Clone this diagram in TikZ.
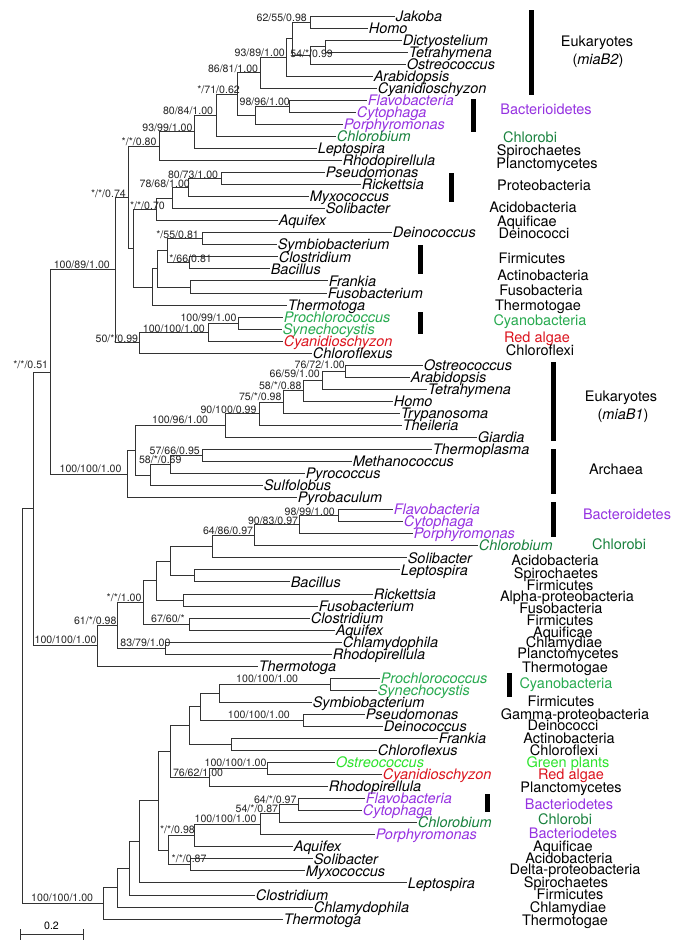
\documentclass[tikz,border=0pt]{standalone}
\usepackage{fontspec}
\setmainfont{TeX Gyre Heros}
\usetikzlibrary{calc}
\definecolor{cpur}{RGB}{150,50,225}
\definecolor{cgrn}{RGB}{25,130,62}
\definecolor{ccya}{RGB}{40,170,80}
\definecolor{cpl}{RGB}{45,228,45}
\definecolor{cred}{RGB}{220,20,30}
\newcommand\bigf{\fontsize{14.5}{16}\selectfont}
\newcommand\smf{\fontsize{10.6}{12}\selectfont}
\tikzset{
 br/.style={draw=black!80, line width=0.8pt},
 leaflab/.style={anchor=base west, inner sep=0pt, font=\bigf\itshape},
 supp/.style={anchor=base east, inner sep=0pt, font=\smf, text=black!85},
 grp/.style={anchor=base, inner sep=0pt, font=\bigf},
 clbar/.style={fill=black, draw=none},
}
\newcommand\mkleaf[5]{%
  \coordinate (#1) at (#2,16+12.04*#3);
  \node[leaflab, text=#4] (#1t) at ([xshift=0.6pt,yshift=-5.2pt]#1) {#5};}
\newcommand\mknode[4]{%
  \path let \p1=(#3), \p2=(#4) in coordinate (#1) at (#2pt,{(\y1+\y2)/2});
  \draw[br] (#1) |- (#3);
  \draw[br] (#1) |- (#4);}
\begin{document}
\begin{tikzpicture}[x=1pt,y=-1pt]
\fill[white] (0,0) rectangle (685,948);
\useasboundingbox (0,0) rectangle (685,948);
% leaves
\mkleaf{L0}{395}{0}{black}{Jakoba}
\mkleaf{L1}{368}{1}{black}{Homo}
\mkleaf{L2}{402}{2}{black}{Dictyostelium}
\mkleaf{L3}{408}{3}{black}{Tetrahymena}
\mkleaf{L4}{406}{4}{black}{Ostreococcus}
\mkleaf{L5}{373}{5}{black}{Arabidopsis}
\mkleaf{L6}{377}{6}{black}{Cyanidioschyzon}
\mkleaf{L7}{367}{7}{cpur}{Flavobacteria}
\mkleaf{L8}{356}{8}{cpur}{Cytophaga}
\mkleaf{L9}{343}{9}{cpur}{Porphyromonas}
\mkleaf{L10}{336}{10}{cgrn}{Chlorobium}
\mkleaf{L11}{317}{11}{black}{Leptospira}
\mkleaf{L12}{342}{12}{black}{Rhodopirellula}
\mkleaf{L13}{325}{13}{black}{Pseudomonas}
\mkleaf{L14}{361}{14}{black}{Rickettsia}
\mkleaf{L15}{309}{15}{black}{Myxococcus}
\mkleaf{L16}{325}{16}{black}{Solibacter}
\mkleaf{L17}{278}{17}{black}{Aquifex}
\mkleaf{L18}{392}{18}{black}{Deinococcus}
\mkleaf{L19}{277}{19}{black}{Symbiobacterium}
\mkleaf{L20}{278}{20}{black}{Clostridium}
\mkleaf{L21}{270}{21}{black}{Bacillus}
\mkleaf{L22}{328}{22}{black}{Frankia}
\mkleaf{L23}{327}{23}{black}{Fusobacterium}
\mkleaf{L24}{287}{24}{black}{Thermotoga}
\mkleaf{L25}{283}{25}{ccya}{Prochlorococcus}
\mkleaf{L26}{282}{26}{ccya}{Synechocystis}
\mkleaf{L27}{283}{27}{cred}{Cyanidioschyzon}
\mkleaf{L28}{312}{28}{black}{Chloroflexus}
\mkleaf{L29}{423}{29}{black}{Ostreococcus}
\mkleaf{L30}{410}{30}{black}{Arabidopsis}
\mkleaf{L31}{427}{31}{black}{Tetrahymena}
\mkleaf{L32}{393}{32}{black}{Homo}
\mkleaf{L33}{400}{33}{black}{Trypanosoma}
\mkleaf{L34}{402}{34}{black}{Theileria}
\mkleaf{L35}{477}{35}{black}{Giardia}
\mkleaf{L36}{432}{36}{black}{Thermoplasma}
\mkleaf{L37}{352}{37}{black}{Methanococcus}
\mkleaf{L38}{305}{38}{black}{Pyrococcus}
\mkleaf{L39}{263}{39}{black}{Sulfolobus}
\mkleaf{L40}{297}{40}{black}{Pyrobaculum}
\mkleaf{L41}{393}{41}{cpur}{Flavobacteria}
\mkleaf{L42}{403}{42}{cpur}{Cytophaga}
\mkleaf{L43}{413}{43}{cpur}{Porphyromonas}
\mkleaf{L44}{478}{44}{cgrn}{Chlorobium}
\mkleaf{L45}{407}{45}{black}{Solibacter}
\mkleaf{L46}{400}{46}{black}{Leptospira}
\mkleaf{L47}{290}{47}{black}{Bacillus}
\mkleaf{L48}{373}{48}{black}{Rickettsia}
\mkleaf{L49}{318}{49}{black}{Fusobacterium}
\mkleaf{L50}{310}{50}{black}{Clostridium}
\mkleaf{L51}{335}{51}{black}{Aquifex}
\mkleaf{L52}{342}{52}{black}{Chlamydophila}
\mkleaf{L53}{332}{53}{black}{Rhodopirellula}
\mkleaf{L54}{258}{54}{black}{Thermotoga}
\mkleaf{L55}{380}{55}{ccya}{Prochlorococcus}
\mkleaf{L56}{377}{56}{ccya}{Synechocystis}
\mkleaf{L57}{312}{57}{black}{Symbiobacterium}
\mkleaf{L58}{365}{58}{black}{Pseudomonas}
\mkleaf{L59}{383}{59}{black}{Deinococcus}
\mkleaf{L60}{438}{60}{black}{Frankia}
\mkleaf{L61}{377}{61}{black}{Chloroflexus}
\mkleaf{L62}{335}{62}{cpl}{Ostreococcus}
\mkleaf{L63}{382}{63}{cred}{Cyanidioschyzon}
\mkleaf{L64}{328}{64}{black}{Rhodopirellula}
\mkleaf{L65}{365}{65}{cpur}{Flavobacteria}
\mkleaf{L66}{362}{66}{cpur}{Cytophaga}
\mkleaf{L67}{417}{67}{cgrn}{Chlorobium}
\mkleaf{L68}{375}{68}{cpur}{Porphyromonas}
\mkleaf{L69}{293}{69}{black}{Aquifex}
\mkleaf{L70}{313}{70}{black}{Solibacter}
\mkleaf{L71}{305}{71}{black}{Myxococcus}
\mkleaf{L72}{407}{72}{black}{Leptospira}
\mkleaf{L73}{255}{73}{black}{Clostridium}
\mkleaf{L74}{313}{74}{black}{Chlamydophila}
\mkleaf{L75}{283}{75}{black}{Thermotoga}
% internal nodes
\mknode{n1}{310}{L0}{L1}
\mknode{n2}{325}{L2}{L3}
\mknode{n3}{310}{n2}{L4}
\mknode{n4}{292}{n1}{n3}
\mknode{n5}{286}{n4}{L5}
\mknode{n6}{260}{n5}{L6}
\mknode{n7}{289}{L7}{L8}
\mknode{n8}{255}{n7}{L9}
\mknode{n9}{237}{n6}{n8}
\mknode{n10}{216}{n9}{L10}
\mknode{n11}{194}{n10}{L11}
\mknode{n12}{159}{n11}{L12}
\mknode{n13}{221}{L13}{L14}
\mknode{n14}{188}{n13}{L15}
\mknode{n15}{172}{n14}{L16}
\mknode{n16}{156}{n15}{L17}
\mknode{n17}{202}{L18}{L19}
\mknode{n18}{189}{L20}{L21}
\mknode{n19}{167}{n17}{n18}
\mknode{n20}{190}{L22}{L23}
\mknode{n21}{157}{n19}{n20}
\mknode{n22}{152}{n21}{L24}
\mknode{n23}{133}{n16}{n22}
\mknode{n24}{128}{n12}{n23}
\mknode{n25}{238}{L25}{L26}
\mknode{n26}{208}{n25}{L27}
\mknode{n27}{139}{n26}{L28}
\mknode{n28}{115}{n24}{n27}
\mknode{n29}{345}{L29}{L30}
\mknode{n30}{322}{n29}{L31}
\mknode{n31}{303}{n30}{L32}
\mknode{n32}{283}{n31}{L33}
\mknode{n33}{259}{n32}{L34}
\mknode{n34}{225}{n33}{L35}
\mknode{n35}{202}{L36}{L37}
\mknode{n36}{170}{n35}{L38}
\mknode{n37}{150}{n36}{L39}
\mknode{n38}{135}{n34}{n37}
\mknode{n39}{127}{n38}{L40}
\mknode{n40}{50}{n28}{n39}
\mknode{n41}{338}{L41}{L42}
\mknode{n42}{299}{n41}{L43}
\mknode{n43}{254}{n42}{L44}
\mknode{n44}{212}{n43}{L45}
\mknode{n45}{194}{L46}{L47}
\mknode{n46}{170}{n44}{n45}
\mknode{n47}{183}{L48}{L49}
\mknode{n48}{156}{n46}{n47}
\mknode{n49}{189}{L50}{L51}
\mknode{n50}{143}{n48}{n49}
\mknode{n51}{165}{L52}{L53}
\mknode{n52}{117}{n50}{n51}
\mknode{n53}{97}{n52}{L54}
\mknode{nA}{33}{n40}{n53}
\mknode{n54}{330}{L55}{L56}
\mknode{n55}{219}{n54}{L57}
\mknode{n56}{303}{L58}{L59}
\mknode{n57}{200}{n55}{n56}
\mknode{n58}{231}{L60}{L61}
\mknode{n59}{189}{n57}{n58}
\mknode{n60}{267}{L62}{L63}
\mknode{n61}{209}{n60}{L64}
\mknode{n62}{170}{n59}{n61}
\mknode{n63}{298}{L65}{L66}
\mknode{n64}{279}{n63}{L67}
\mknode{n65}{260}{n64}{L68}
\mknode{n66}{194}{n65}{L69}
\mknode{n67}{190}{L70}{L71}
\mknode{n68}{168}{n66}{n67}
\mknode{n69}{158}{n62}{n68}
\mknode{n70}{139}{n69}{L72}
\mknode{n71}{129}{n70}{L73}
\mknode{n72}{117}{n71}{L74}
\mknode{n73}{103}{n72}{L75}
\mknode{root}{22}{nA}{n73}
% support values
\node[supp] (s1) at (307,21.5) {62/55/0.98};
\node[supp] (s2) at (333,57) {54/*/0.99};
\node[supp] (s3) at (285,56.4) {93/89/1.00};
\node[supp] (s4) at (258.3,72) {86/81/1.00};
\node[supp] (s5) at (290,105.4) {98/96/1.00};
\node[supp] (s6) at (240,93) {*/71/0.62};
\node[supp] (s7) at (213.3,114) {80/84/1.00};
\node[supp] (s8) at (192.7,131) {93/99/1.00};
\node[supp] (s9) at (156.7,145.5) {*/*/0.80};
\node[supp] (s10) at (218.3,178) {80/73/1.00};
\node[supp] (s11) at (190,187.5) {78/68/1.00};
\node[supp] (s12) at (165,209.7) {*/*/0.70};
\node[supp] (s13) at (199,238.5) {*/55/0.81};
\node[supp] (s14) at (212,262) {*/66/0.81};
\node[supp] (s15) at (126,197) {*/*/0.74};
\node[supp] (s16) at (236.7,321) {100/99/1.00};
\node[supp] (s17) at (205,332) {100/100/1.00};
\node[supp] (s18) at (138.3,342) {50/*/0.99};
\node[supp] (s19) at (110,268.7) {100/89/1.00};
\node[supp] (s20) at (345,368.7) {76/72/1.00};
\node[supp] (s21) at (320,377.7) {66/59/1.00};
\node[supp] (s22) at (301.7,389.7) {58/*/0.88};
\node[supp] (s23) at (281.7,400.4) {75/*/0.98};
\node[supp] (s24) at (256.7,413) {90/100/0.99};
\node[supp] (s25) at (208.3,423) {100/96/1.00};
\node[supp] (s26) at (200,454.4) {57/66/0.95};
\node[supp] (s27) at (181.7,463.7) {58/*/0.69};
\node[supp] (s28) at (121.7,472) {100/100/1.00};
\node[supp] (s29) at (48.3,368.7) {*/*/0.51};
\node[supp] (s30) at (335,515.4) {98/99/1.00};
\node[supp] (s31) at (298.3,524.4) {90/83/0.97};
\node[supp] (s32) at (253.3,534.7) {64/86/0.97};
\node[supp] (s33) at (185,622.7) {67/60/*};
\node[supp] (s34) at (141.7,601) {*/*/1.00};
\node[supp] (s35) at (170.7,646) {83/79/1.00};
\node[supp] (s36) at (116.7,624.4) {61/*/0.98};
\node[supp] (s37) at (96.7,643.7) {100/100/1.00};
\node[supp] (s38) at (298.3,682) {100/100/1.00};
\node[supp] (s39) at (290,718.7) {100/100/1.00};
\node[supp] (s40) at (266.7,766.4) {100/100/1.00};
\node[supp] (s41) at (223.3,776) {76/62/1.00};
\node[supp] (s42) at (296.7,803) {64/*/0.97};
\node[supp] (s43) at (278.3,812) {54/*/0.87};
\node[supp] (s44) at (256.7,822.7) {100/100/1.00};
\node[supp] (s45) at (195,833.7) {*/*/0.98};
\node[supp] (s46) at (206.7,862.7) {*/*/0.87};
\node[supp] (s47) at (93.3,901.4) {100/100/1.00};
% clade bars
\fill[clbar] (529,10) rectangle (534,95);
\fill[clbar] (471,99) rectangle (476,132);
\fill[clbar] (449,173) rectangle (454,202);
\fill[clbar] (418,245) rectangle (423,274);
\fill[clbar] (418,312) rectangle (423,334);
\fill[clbar] (551,362) rectangle (556,441);
\fill[clbar] (551,449) rectangle (556,494);
\fill[clbar] (551,502) rectangle (556,537);
\fill[clbar] (507,673) rectangle (512,697);
\fill[clbar] (485,794) rectangle (490,812);
% group labels
\node[grp] (g1) at (597,46.2) {Eukaryotes};
\node[grp] (g2) at (598,64.2) {(\textit{miaB2})};
\node[grp,text=cpur] (g3) at (546,114.2) {Bacterioidetes};
\node[grp,text=cgrn] (g4) at (530,142.2) {Chlorobi};
\node[grp] (g5) at (539,155.2) {Spirochaetes};
\node[grp] (g6) at (547,168.2) {Planctomycetes};
\node[grp] (g7) at (544,190.2) {Proteobacteria};
\node[grp] (g8) at (533,212.2) {Acidobacteria};
\node[grp] (g9) at (527,226.2) {Aquificae};
\node[grp] (g10) at (534,238.2) {Deinococci};
\node[grp] (g11) at (532,263.2) {Firmicutes};
\node[grp] (g12) at (543,280.2) {Actinobacteria};
\node[grp] (g13) at (541,295.2) {Fusobacteria};
\node[grp] (g14) at (538,310.2) {Thermotogae};
\node[grp,text=ccya] (g15) at (540,325.2) {Cyanobacteria};
\node[grp,text=cred] (g16) at (537,342.2) {Red algae};
\node[grp] (g17) at (540,355.2) {Chloroflexi};
\node[grp] (g18) at (621,401.2) {Eukaryotes};
\node[grp] (g19) at (623,419.2) {(\textit{miaB1})};
\node[grp] (g20) at (616,474.2) {Archaea};
\node[grp,text=cpur] (g21) at (627,519.2) {Bacteroidetes};
\node[grp,text=cgrn] (g22) at (619,549.2) {Chlorobi};
\node[grp] (g23) at (555,565.2) {Acidobacteria};
\node[grp] (g24) at (556,578.2) {Spirochaetes};
\node[grp] (g25) at (560,590.2) {Firmicutes};
\node[grp] (g26) at (567,601.2) {Alpha-proteobacteria};
\node[grp] (g27) at (561,613.2) {Fusobacteria};
\node[grp] (g28) at (560,625.2) {Firmicutes};
\node[grp] (g29) at (563,637.2) {Aquificae};
\node[grp] (g30) at (564,647.2) {Chlamydiae};
\node[grp] (g31) at (568,658.2) {Planctomycetes};
\node[grp] (g32) at (565,672.2) {Thermotogae};
\node[grp,text=ccya] (g33) at (566,688.2) {Cyanobacteria};
\node[grp] (g34) at (561,706.2) {Firmicutes};
\node[grp] (g35) at (575,719.2) {Gamma-proteobacteria};
\node[grp] (g36) at (563,730.2) {Deinococci};
\node[grp] (g37) at (569,743.2) {Actinobacteria};
\node[grp] (g38) at (564,755.2) {Chloroflexi};
\node[grp,text=cpl] (g39) at (568,767.2) {Green plants};
\node[grp,text=cred] (g40) at (571,779.2) {Red algae};
\node[grp] (g41) at (571,792.2) {Planctomycetes};
\node[grp,text=cpur] (g42) at (569,809.2) {Bacteriodetes};
\node[grp,text=cgrn] (g43) at (565,824.2) {Chlorobi};
\node[grp,text=cpur] (g44) at (573,838.2) {Bacteriodetes};
\node[grp] (g45) at (563,851.2) {Aquificae};
\node[grp] (g46) at (569,863.2) {Acidobacteria};
\node[grp] (g47) at (575,874.2) {Delta-proteobacteria};
\node[grp] (g48) at (566,887.2) {Spirochaetes};
\node[grp] (g49) at (570,899.2) {Firmicutes};
\node[grp] (g50) at (568,912.2) {Chlamydiae};
\node[grp] (g51) at (565,925.2) {Thermotogae};
% scale bar
\coordinate (sbA) at (20,934);
\coordinate (sbB) at (83,934);
\draw[br] (sbA) -- (sbB);
\draw[br] ([yshift=5pt]sbA) -- ([yshift=-6pt]sbA);
\draw[br] ([yshift=5pt]sbB) -- ([yshift=-6pt]sbB);
\node[font=\smf, anchor=base, inner sep=0pt] (sbl) at (51.5,929) {0.2};
\end{tikzpicture}
\end{document}
